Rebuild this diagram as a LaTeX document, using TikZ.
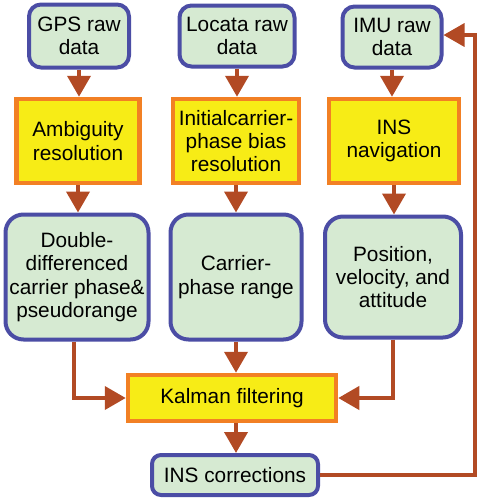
\documentclass[tikz,border=0pt]{standalone}
\usepackage{fontspec}
\setmainfont{Liberation Sans}
\usetikzlibrary{arrows.meta}
\definecolor{boxblue}{RGB}{75,77,165}
\definecolor{boxgreen}{RGB}{214,234,210}
\definecolor{boxyellow}{RGB}{247,236,22}
\definecolor{boxorange}{RGB}{242,128,36}
\definecolor{flowbrown}{RGB}{178,74,36}
\begin{document}
\begin{tikzpicture}[x=1pt, y=-1pt,
    every node/.style={font=\fontsize{20.8}{23.3}\selectfont, align=center, inner sep=0pt},
    data/.style={draw=boxblue, line width=4pt, fill=boxgreen, rounded corners=12pt},
    proc/.style={draw=boxorange, line width=4.5pt, fill=boxyellow},
    flow/.style={draw=flowbrown, line width=4pt, -{Triangle[width=23pt,length=21pt]}}]
    \useasboundingbox (0,0) rectangle (480,501);
    % 入力データ
    \node[data, minimum width=100, minimum height=63] (gps) at (79,36) {GPS raw\\data};
    \node[data, minimum width=115, minimum height=61] (locata) at (237,36) {Locata raw\\data};
    \node[data, minimum width=99, minimum height=61] (imu) at (392,37) {IMU raw\\data};
    % 処理
    \node[proc, minimum width=123, minimum height=84] (amb) at (78,141) {Ambiguity\\resolution};
    \node[proc, minimum width=126, minimum height=84] (bias) at (236,141) {Initialcarrier-\\phase bias\\resolution};
    \node[proc, minimum width=130, minimum height=84] (insnav) at (394,141) {INS\\navigation};
    % 観測量
    \node[data, rounded corners=18pt, minimum width=143, minimum height=125] (dd) at (77,277) {Double-\\differenced\\carrier phase\&\\pseudorange};
    \node[data, rounded corners=18pt, minimum width=131, minimum height=125] (cpr) at (236,277) {Carrier-\\phase range};
    \node[data, rounded corners=18pt, minimum width=136, minimum height=121] (pva) at (393,277) {Position,\\velocity, and\\attitude};
    % フィルタと補正
    \node[proc, minimum width=208, minimum height=46] (kf) at (232,398) {Kalman filtering};
    \node[data, rounded corners=9pt, minimum width=166, minimum height=40] (corr) at (235,475) {INS corrections};
    \coordinate (fb) at (475,35);
    % 矢印
    \draw[flow] (gps.south) -- (gps.south |- amb.north);
    \draw[flow] (locata.south) -- (locata.south |- bias.north);
    \draw[flow] (imu.south) -- (imu.south |- insnav.north);
    \draw[flow] (amb.south) -- (amb.south |- dd.north);
    \draw[flow] (bias.south) -- (bias.south |- cpr.north);
    \draw[flow] (insnav.south) -- (insnav.south |- pva.north);
    \draw[flow] ([xshift=-3pt]dd.south) |- (kf.west);
    \draw[flow] (pva.south) |- (kf.east);
    \draw[flow] (cpr.south) -- (cpr.south |- kf.north);
    \draw[flow] (kf.south -| cpr.south) -- (cpr.south |- corr.north);
    \draw[flow, line width=3.5pt] (corr.east) -| (fb) -- (fb -| imu.east);
\end{tikzpicture}
\end{document}
